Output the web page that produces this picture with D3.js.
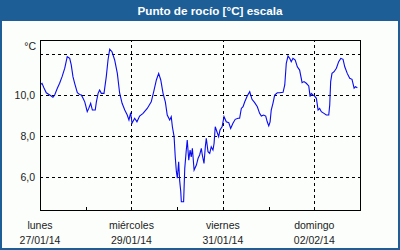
<!DOCTYPE html>
<html>
<head>
<meta charset="utf-8">
<script src="https://cdn.jsdelivr.net/npm/d3@7"></script>
<style>
  body { margin: 0; background: #fff; }
  text { font-family: "Liberation Sans", Arial, sans-serif; }
</style>
</head>
<body>
<div id="chart"></div>
<script>
const START = new Date(2014, 0, 27);
const END = new Date(2014, 1, 3);

// hours since lunes 27/01/14 00:00
const hours = [0.4, 1.05, 2.1, 3.3, 5.1, 5.9, 6.8, 7.7, 9.1, 10.3, 11.6, 13.0, 14.3, 15.6, 16.4, 17.3,
  18.2, 19.6, 20.8, 21.7, 22.6, 23.5, 24.8, 25.6, 26.6, 27.5, 29.0, 29.6, 30.5, 31.3, 32.2, 33.6,
  34.8, 35.7, 36.6, 37.8, 39.2, 40.6, 41.8, 43.1, 44.5, 45.8, 46.7, 47.6, 48.3, 49.7, 50.9, 52.3,
  54.1, 56.3, 58.4, 59.7, 61.1, 62.3, 63.4, 64.6, 65.8, 66.8, 68.1, 68.9, 69.5, 70.4, 71.0, 71.6,
  72.1, 72.8, 73.3, 73.9, 74.2, 75.4, 76.0, 76.8, 77.3, 78.1, 78.8, 79.4, 80.0, 80.9, 82.1, 83.0,
  83.8, 84.7, 85.2, 86.1, 86.8, 87.3, 88.2, 89.1, 89.9, 90.8, 91.4, 92.0, 92.9, 93.8, 94.5, 95.6,
  96.6, 97.8, 99.1, 100.1, 101.3, 102.5, 104.0, 104.8, 105.7, 106.6, 107.5, 108.8, 110.1, 111.3,
  112.7, 114.1, 115.3, 116.2, 117.4, 118.5, 119.3, 120.1, 120.8, 121.4, 122.3, 123.2, 124.6, 125.8,
  127.6, 128.5, 129.3, 130.2, 131.1, 131.9, 132.8, 134.0, 135.1, 136.3, 137.6, 138.6, 139.8, 141.1,
  141.8, 142.4, 143.3, 144.2, 145.1, 146.0, 146.8, 147.7, 149.1, 150.3, 151.6, 152.1, 152.6, 153.3,
  154.4, 155.6, 156.8, 157.9, 159.1, 160.0, 161.3, 162.6, 163.8, 164.9, 165.6, 166.6];

// dew point, °C
const dewPoint = [10.52, 10.57, 10.34, 10.11, 10.0, 9.95, 9.89, 10.0, 10.33, 10.57, 10.89, 11.30, 11.86, 11.78, 11.46, 10.89,
  10.57, 10.11, 10.03, 10.0, 9.84, 9.67, 9.19, 9.35, 9.60, 9.27, 9.27, 9.67, 10.08, 10.24, 10.08, 10.08,
  10.89, 11.70, 12.22, 12.10, 11.70, 11.05, 10.1, 9.60, 9.27, 9.03, 8.79, 9.14, 8.63, 8.87, 8.70, 8.98,
  9.11, 9.35, 9.67, 10.16, 10.73, 11.05, 10.73, 10.08, 9.67, 9.03, 8.79, 8.95, 8.46, 7.98, 7.00, 6.28,
  5.96, 6.76, 5.87, 5.31, 4.82, 4.82, 6.44, 7.33, 7.82, 6.84, 7.33, 7.00, 7.41, 6.36, 6.60, 6.93,
  7.09, 7.41, 7.09, 6.68, 7.49, 7.90, 7.25, 7.17, 7.49, 7.33, 7.66, 8.46, 8.22, 7.98, 8.30, 8.46,
  8.95, 8.70, 8.66, 8.38, 8.63, 8.82, 8.87, 8.87, 9.35, 9.43, 9.67, 9.95, 10.16, 9.79,
  9.63, 9.43, 9.11, 8.98, 9.03, 8.98, 8.70, 8.50, 8.70, 9.27, 9.60, 10.0, 10.11, 10.11,
  10.13, 10.49, 11.54, 11.89, 11.78, 11.62, 11.78, 11.70, 11.37, 11.21, 10.60, 10.65, 10.57, 10.44,
  9.92, 10.08, 10.0, 9.95, 9.84, 9.27, 9.35, 9.19, 9.11, 9.03, 9.03, 9.51, 10.65, 11.05,
  11.13, 11.30, 11.62, 11.78, 11.73, 11.37, 11.05, 10.81, 10.76, 10.33, 10.40, 10.35];

const yGrid = [6, 8, 10, 12];
const yLabels = [6, 8, 10];
const dayNames = ["lunes", "miércoles", "viernes", "domingo"];
const dayDates = ["27/01/14", "29/01/14", "31/01/14", "02/02/14"];
const labelDays = [new Date(2014, 0, 27), new Date(2014, 0, 29), new Date(2014, 0, 31), new Date(2014, 1, 2)];

const data = hours.map((h, i) => ({ date: d3.timeHour.offset(START, 0) .getTime() + h * 3600e3, value: dewPoint[i] }));

const width = 400, height = 250;
const margins = { top: 40, right: 40, bottom: 40, left: 40 };
const blue = "#1d5e96";

const svg = d3.select("#chart")
  .append("svg")
  .attr("width", width)
  .attr("height", height);

// frame + title bar
svg.append("rect")
  .attr("x", 1).attr("y", 1)
  .attr("width", width - 2).attr("height", height - 2)
  .attr("fill", "#fbfefb")
  .attr("stroke", blue)
  .attr("stroke-width", 2);
svg.append("rect")
  .attr("x", 0).attr("y", 0)
  .attr("width", width).attr("height", 21)
  .attr("fill", blue);
svg.append("text")
  .attr("x", 210).attr("y", 15)
  .attr("text-anchor", "middle")
  .style("font-size", "11.7px")
  .style("font-weight", "bold")
  .style("fill", "#fff")
  .text("Punto de rocío [°C] escala");

const xScale = d3.scaleTime()
  .domain([START, END])
  .range([margins.left, width - margins.right]);

const yScale = d3.scaleLinear()
  .domain([4.42, 12.67])
  .range([height - margins.bottom, margins.top]);

// horizontal grid
svg.append("g")
  .attr("transform", `translate(${margins.left},0)`)
  .call(d3.axisLeft(yScale).tickValues(yGrid).tickSize(-(width - margins.left - margins.right)).tickFormat(""))
  .call(g => g.select(".domain").remove())
  .call(g => g.selectAll("line").attr("stroke", "#000").attr("stroke-dasharray", "3,3").attr("shape-rendering", "crispEdges"));

// vertical grid
svg.append("g")
  .attr("transform", `translate(0,${height - margins.bottom})`)
  .call(d3.axisBottom(xScale).tickValues(labelDays.slice(1)).tickSize(-(height - margins.top - margins.bottom)).tickFormat(""))
  .call(g => g.select(".domain").remove())
  .call(g => g.selectAll("line").attr("stroke", "#000").attr("stroke-dasharray", "3,3").attr("shape-rendering", "crispEdges"));

// day ticks pointing inward
svg.append("g")
  .attr("transform", `translate(0,${height - margins.bottom})`)
  .call(d3.axisBottom(xScale).ticks(d3.timeDay.every(1)).tickSize(-3).tickFormat(""))
  .call(g => g.select(".domain").remove())
  .call(g => g.selectAll("line").attr("stroke", "#000").attr("shape-rendering", "crispEdges"));

// plot frame
svg.append("rect")
  .attr("x", margins.left + 0.5).attr("y", margins.top + 0.5)
  .attr("width", width - margins.left - margins.right)
  .attr("height", height - margins.top - margins.bottom)
  .attr("fill", "none")
  .attr("stroke", "#000");

// y labels
svg.selectAll("text.ylab")
  .data(yLabels)
  .join("text")
    .attr("class", "ylab")
    .attr("x", 35)
    .attr("y", d => yScale(d))
    .attr("dy", "0.35em")
    .attr("text-anchor", "end")
    .style("font-size", "10.5px")
    .style("fill", "#222")
    .text(d => d.toFixed(1).replace(".", ","));

svg.append("text")
  .attr("x", 36).attr("y", 50)
  .attr("text-anchor", "end")
  .style("font-size", "10.5px")
  .style("fill", "#222")
  .text("°C");

// x labels
svg.selectAll("text.day")
  .data(labelDays)
  .join("text")
    .attr("class", "day")
    .attr("x", d => xScale(d))
    .attr("y", 229)
    .attr("text-anchor", "middle")
    .style("font-size", "10.5px")
    .style("fill", "#222")
    .text((d, i) => dayNames[i]);

svg.selectAll("text.date")
  .data(labelDays)
  .join("text")
    .attr("class", "date")
    .attr("x", d => xScale(d))
    .attr("y", 244)
    .attr("text-anchor", "middle")
    .style("font-size", "10.5px")
    .style("fill", "#222")
    .text((d, i) => dayDates[i]);

// the line
const line = d3.line()
  .x(d => xScale(d.date))
  .y(d => yScale(d.value));

svg.append("path")
  .datum(data)
  .attr("d", line)
  .attr("fill", "none")
  .attr("stroke", "#0a0aee")
  .attr("stroke-width", 1.1);
</script>
</body>
</html>
